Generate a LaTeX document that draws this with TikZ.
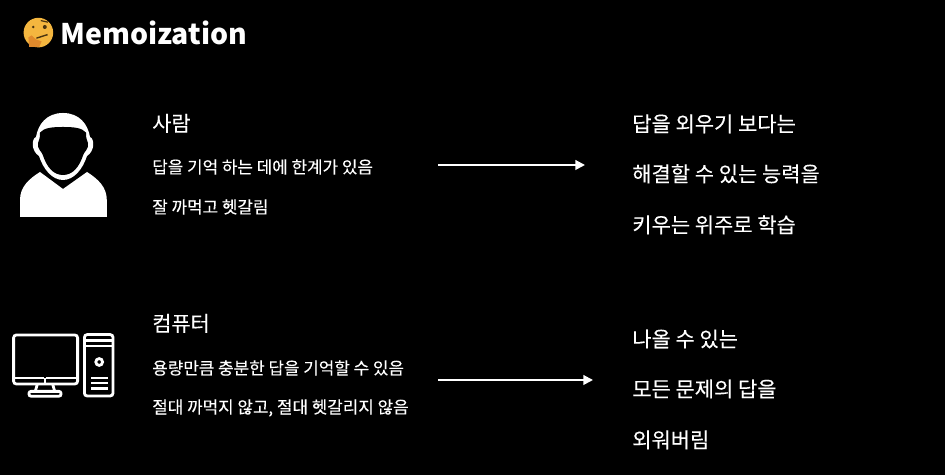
\documentclass[tikz,border=0pt]{standalone}
\usepackage{fontspec}
\setmainfont{Noto Sans CJK KR}
\newfontfamily\medfont{Noto Sans CJK KR}[FakeBold=0.2]
\usepackage{tikz}
\usetikzlibrary{calc,positioning,arrows.meta}
\definecolor{facecol}{HTML}{F4B63F}
\definecolor{handcol}{HTML}{E08A2C}
\definecolor{browcol}{HTML}{4A3410}
\tikzset{
	headline/.style={anchor=west,inner sep=0pt,text=white,font=\medfont\fontsize{14.8pt}{16pt}\selectfont},
	smallline/.style={anchor=west,inner sep=0pt,text=white,font=\medfont\fontsize{12pt}{13pt}\selectfont},
	bigline/.style={anchor=west,inner sep=0pt,text=white,font=\medfont\fontsize{14.9pt}{16pt}\selectfont},
	iconline/.style={draw=white,line width=0.7mm,rounded corners=0.7mm},
	resultarrow/.style={draw=white,line width=0.5mm,-{Triangle[length=2.4mm,width=2.4mm]}}
}
\begin{document}
\begin{tikzpicture}
				\useasboundingbox (0mm,0mm) rectangle (236.25mm,118.75mm);
				\fill[black] (0mm,0mm) rectangle (236.25mm,118.75mm);
				%\draw[color=gray,step=5mm,opacity=0.3] (0mm,0mm) grid (236mm,118mm); %help grids

				% title
				\node[anchor=west,inner sep=0pt,text=white,font=\fontsize{20.2pt}{24pt}\bfseries\selectfont] (memo) at (15mm,110.4mm) {Memoization};
				\fill[facecol] (9.6mm,110.6mm) circle [radius=3.7mm];
				\fill[browcol] (8.3mm,112mm) circle [radius=0.35mm];
				\fill[browcol] (11.2mm,112mm) circle [radius=0.5mm];
				\draw[browcol,line width=0.3mm] (10.2mm,113.6mm)--(12mm,113.2mm);
				\draw[browcol,line width=0.35mm] (9.1mm,109.2mm)--(11.9mm,110.1mm);
				\fill[handcol] (7.3mm,107mm)--(9.8mm,107mm)--(10.4mm,108.4mm)--(9mm,108.9mm)--(7.9mm,109.9mm)--(7.1mm,109.4mm)--cycle;

				% person
				\fill[white] (15.75mm,90.5mm).. controls (11.5mm,90.5mm) and (9.5mm,87.5mm) .. (9mm,84.5mm)
					.. controls (7.8mm,84mm) and (7.8mm,81mm) .. (9.75mm,79.75mm)
					.. controls (10.8mm,76.5mm) and (13mm,73.75mm) .. (15.75mm,73.75mm)
					.. controls (18.5mm,73.75mm) and (20.7mm,76.5mm) .. (21.75mm,79.75mm)
					.. controls (23.7mm,81mm) and (23.7mm,84mm) .. (22.5mm,84.5mm)
					.. controls (22mm,87.5mm) and (20mm,90.5mm) .. (15.75mm,90.5mm)-- cycle;
				\fill[black] (15.75mm,87mm).. controls (13mm,87mm) and (11mm,86.8mm) .. (10mm,85.6mm)
					.. controls (10.1mm,84.5mm) and (9.7mm,83.5mm) .. (9.5mm,83mm)
					.. controls (9.2mm,81.5mm) and (10.4mm,81mm) .. (10.7mm,80mm)
					.. controls (11.7mm,77mm) and (13.3mm,75mm) .. (15.75mm,75mm)
					.. controls (18.2mm,75mm) and (19.8mm,77mm) .. (20.8mm,80mm)
					.. controls (21.1mm,81mm) and (22.3mm,81.5mm) .. (22mm,83mm)
					.. controls (21.8mm,83.5mm) and (21.4mm,84.5mm) .. (21.5mm,85.6mm)
					.. controls (20.5mm,86.8mm) and (18.5mm,87mm) .. (15.75mm,87mm)-- cycle;
				\fill[white] (5mm,64.5mm)--(26.7mm,64.5mm)--(26.7mm,68.75mm).. controls (26.7mm,72mm) and (24.5mm,74mm) .. (21.75mm,75.75mm)--(15.75mm,71.5mm)--(10mm,75.75mm).. controls (7.2mm,74mm) and (5mm,72mm) .. (5mm,68.75mm)-- cycle;

				% computer
				\draw[iconline] (3.4mm,22.75mm) rectangle (19.4mm,35mm);
				\draw[draw=white,line width=0.6mm] (3.4mm,24.3mm)--(11mm,24.3mm);
				\draw[draw=white,line width=0.6mm] (11.5mm,24.3mm)--(19.4mm,24.3mm);
				\draw[draw=white,line width=0.3mm] (11.25mm,22.9mm)--(11.25mm,24.2mm);
				\draw[draw=white,line width=0.7mm] (9.3mm,22.6mm)--(8.8mm,20.8mm);
				\draw[draw=white,line width=0.7mm] (13.2mm,22.6mm)--(13.7mm,20.8mm);
				\draw[iconline,rounded corners=0.5mm] (7.25mm,19.7mm) rectangle (15.25mm,20.9mm);
				\draw[iconline] (21.1mm,19.75mm) rectangle (28.25mm,35.1mm);
				\draw[draw=white,line width=0.6mm] (21.1mm,33.6mm)--(28.25mm,33.6mm);
				\draw[draw=white,line width=0.6mm] (21.1mm,32.2mm)--(28.25mm,32.2mm);
				\draw[draw=white,line width=0.7mm] (24.8mm,28.25mm) circle [radius=0.85mm];
				\foreach \y in {24.25,23,21.6}
					\draw[draw=white,line width=0.6mm] (22.75mm,\y mm)--(26.9mm,\y mm);

				% left texts
				\node[headline] (person) at (38mm,87.9mm) {사람};
				\node[smallline] (persona) at (38mm,77mm) {답을 기억 하는 데에 한계가 있음};
				\node[smallline] (personb) at (38mm,67mm) {잘 까먹고 헷갈림};
				\node[headline] (comp) at (38mm,37.9mm) {컴퓨터};
				\node[smallline] (compa) at (38mm,26.75mm) {용량만큼 충분한 답을 기억할 수 있음};
				\node[smallline] (compb) at (38mm,16.75mm) {절대 까먹지 않고, 절대 헷갈리지 않음};

				% right texts
				\node[bigline] (studya) at (158mm,87.8mm) {답을 외우기 보다는};
				\node[bigline] (studyb) at (158mm,75.3mm) {해결할 수 있는 능력을};
				\node[bigline] (studyc) at (158mm,62.55mm) {키우는 위주로 학습};
				\node[bigline] (memoa) at (158mm,34mm) {나올 수 있는};
				\node[bigline] (memob) at (158mm,21.5mm) {모든 문제의 답을};
				\node[bigline] (memoc) at (158mm,8.8mm) {외워버림};

				% arrows
				\coordinate (persontail) at (109.5mm,77.5mm);
				\coordinate (personhead) at (146.25mm,77.5mm);
				\coordinate (comptail) at (109.5mm,23.75mm);
				\coordinate (comphead) at (148.25mm,23.75mm);
				\draw[resultarrow] (persontail)--(personhead);
				\draw[resultarrow] (comptail)--(comphead);
\end{tikzpicture}
\end{document}
